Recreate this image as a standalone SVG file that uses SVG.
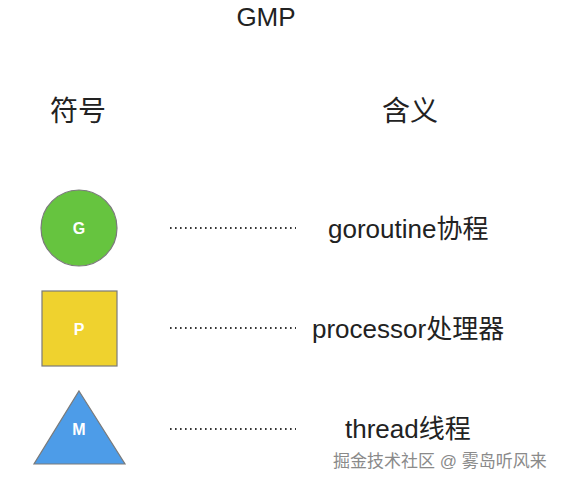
<svg xmlns="http://www.w3.org/2000/svg" width="561" height="480" viewBox="0 0 561 480">
<style>
text{font-family:"Liberation Sans","Noto Sans CJK SC",sans-serif;fill:#222}
.lbl{font-size:26px}
.hdr{font-size:28px}
.sym{font-size:16px;font-weight:bold;fill:#fff;text-anchor:middle}
.dots{stroke:#333;stroke-width:2;stroke-dasharray:1.6 3.4;fill:none}
.shape{stroke:#7a7a7a;stroke-width:1.2}
</style>
<rect width="561" height="480" fill="#fff"/>
<text x="266" y="26" class="lbl" text-anchor="middle">GMP</text>
<text x="50" y="121" class="hdr">符号</text>
<text x="382" y="121" class="hdr">含义</text>
<g id="G">
<circle cx="79" cy="228" r="38" fill="#66c43f" class="shape"/>
<text x="79" y="234" class="sym">G</text>
</g>
<g id="P">
<rect x="42" y="291" width="75" height="75" fill="#efd22e" class="shape"/>
<text x="79" y="335" class="sym">P</text>
</g>
<g id="M">
<polygon points="79,391 125,464 34,464" fill="#4d9ce8" class="shape"/>
<text x="79" y="435" class="sym">M</text>
</g>
<g id="connectors">
<line x1="170" y1="228" x2="296" y2="228" class="dots"/>
<line x1="170" y1="328" x2="296" y2="328" class="dots"/>
<line x1="170" y1="429" x2="296" y2="429" class="dots"/>
</g>
<text x="328" y="238" class="lbl">goroutine协程</text>
<text x="312" y="338" class="lbl" font-size="25">processor处理器</text>
<text x="345" y="438" class="lbl">thread线程</text>
<text x="333" y="467" font-size="17" style="fill:#8a8a8a;stroke:#fff;stroke-width:2.5;paint-order:stroke">掘金技术社区 @ 雾岛听风来</text>
</svg>
